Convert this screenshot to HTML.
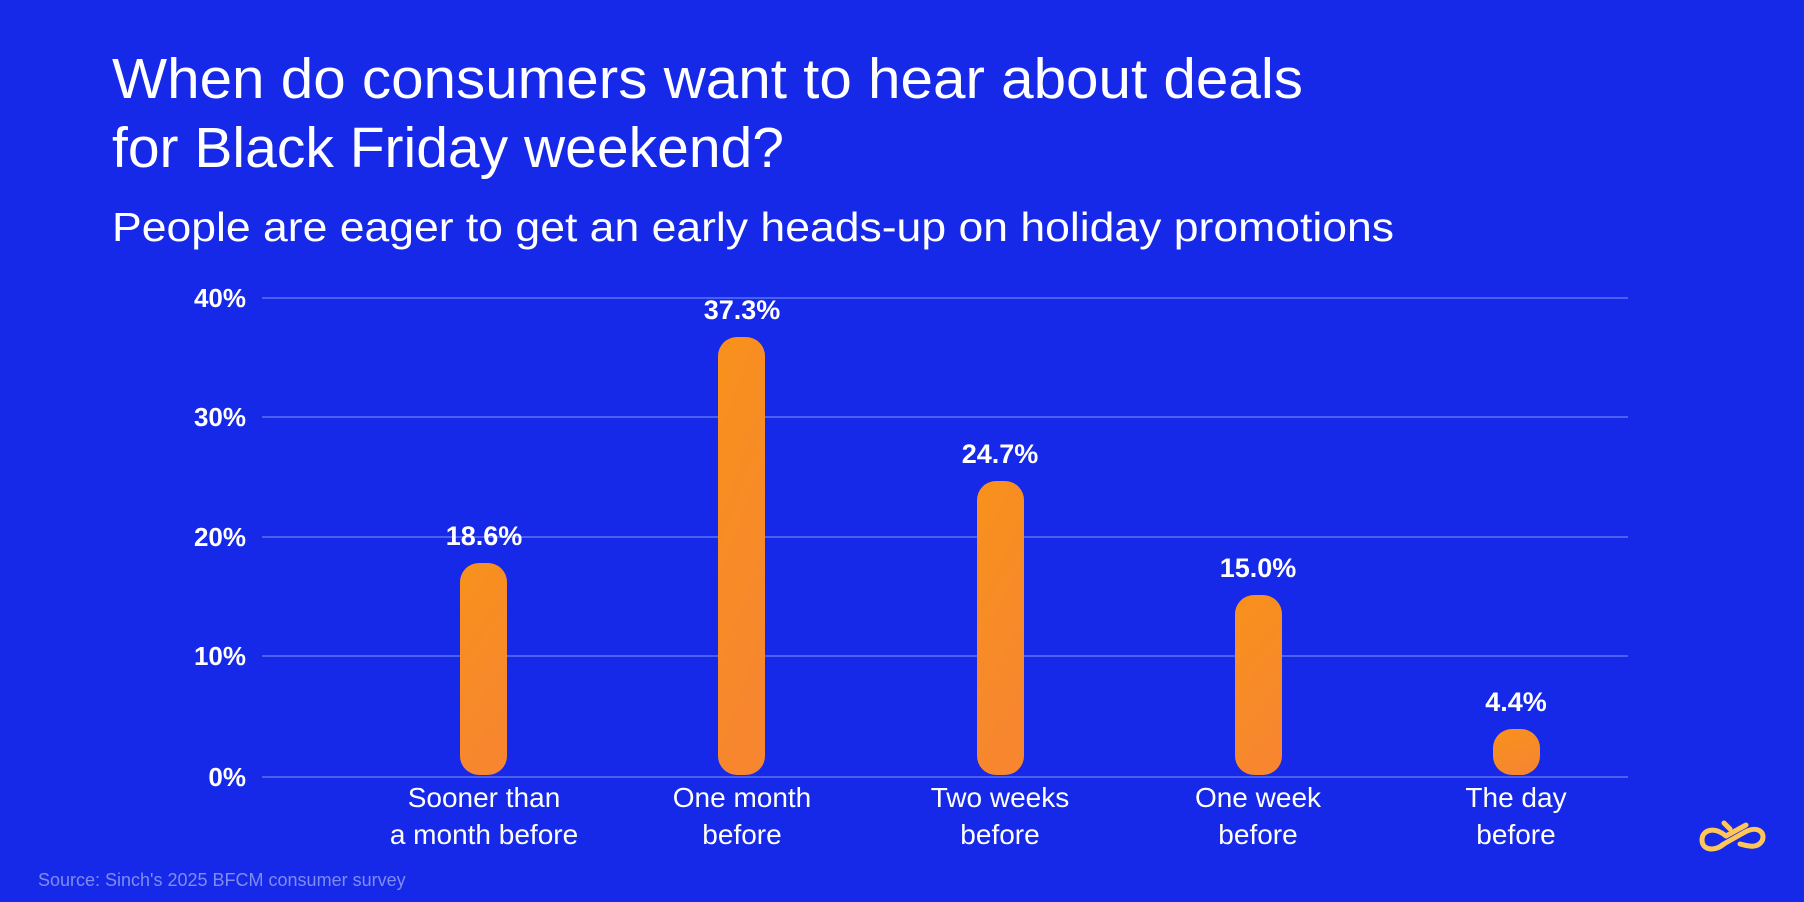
<!DOCTYPE html>
<html><head><meta charset="utf-8"><style>
html,body{margin:0;padding:0;background:#1629E8;}
svg{display:block;}
</style></head><body>
<svg width="1804" height="902" viewBox="0 0 1804 902" xmlns="http://www.w3.org/2000/svg" font-family="'Liberation Sans', sans-serif">
<defs>
<linearGradient id="g" x1="0" y1="0" x2="0.3" y2="1">
<stop offset="0" stop-color="#F8911C"/><stop offset="1" stop-color="#F7862F"/>
</linearGradient>
</defs>
<rect width="1804" height="902" fill="#1629E8"/>
<text x="112" y="98" font-size="57" fill="#fff" textLength="1191" lengthAdjust="spacingAndGlyphs">When do consumers want to hear about deals</text>
<text x="112" y="167" font-size="57" fill="#fff" textLength="672" lengthAdjust="spacingAndGlyphs">for Black Friday weekend?</text>
<text x="112" y="241" font-size="41" fill="#fff" textLength="1282" lengthAdjust="spacingAndGlyphs">People are eager to get an early heads-up on holiday promotions</text>
<g stroke="#4B5FF0" stroke-width="2">
<line x1="262" y1="298" x2="1628" y2="298"/>
<line x1="262" y1="417" x2="1628" y2="417"/>
<line x1="262" y1="537" x2="1628" y2="537"/>
<line x1="262" y1="656" x2="1628" y2="656"/>
<line x1="262" y1="777" x2="1628" y2="777"/>
</g>
<g font-size="26" font-weight="bold" fill="#fff" text-anchor="end">
<text x="246" y="307">40%</text>
<text x="246" y="426">30%</text>
<text x="246" y="546">20%</text>
<text x="246" y="665">10%</text>
<text x="246" y="786">0%</text>
</g>
<g fill="url(#g)">
<rect x="460" y="563" width="47" height="212" rx="19"/>
<rect x="718" y="337" width="47" height="438" rx="19"/>
<rect x="977" y="481" width="47" height="294" rx="19"/>
<rect x="1235" y="595" width="47" height="180" rx="19"/>
<rect x="1493" y="729" width="47" height="46" rx="19"/>
</g>
<g font-size="27" font-weight="bold" fill="#fff" text-anchor="middle">
<text x="484" y="545">18.6%</text>
<text x="742" y="319">37.3%</text>
<text x="1000" y="463">24.7%</text>
<text x="1258" y="577">15.0%</text>
<text x="1516" y="711">4.4%</text>
</g>
<g font-size="28" fill="#fff" text-anchor="middle">
<text x="484" y="807">Sooner than</text><text x="484" y="844">a month before</text>
<text x="742" y="807">One month</text><text x="742" y="844">before</text>
<text x="1000" y="807">Two weeks</text><text x="1000" y="844">before</text>
<text x="1258" y="807">One week</text><text x="1258" y="844">before</text>
<text x="1516" y="807">The day</text><text x="1516" y="844">before</text>
</g>
<text x="38" y="886" font-size="18" fill="#7F8CF2">Source: Sinch's 2025 BFCM consumer survey</text>
<g fill="none" stroke="#FFC65A" stroke-width="5" stroke-linecap="round">
<path d="M1722 845 L1745 832 C1758 825 1766 833 1762 841 C1757 849 1748 846 1740 844"/>
<path d="M1726 836 C1714 826 1702 830 1702 840 C1702 850 1714 852 1724 844"/>
<path d="M1726 836 L1746 825"/>
<path d="M1724 823 L1730 829"/>
</g>
</svg>
</body></html>
